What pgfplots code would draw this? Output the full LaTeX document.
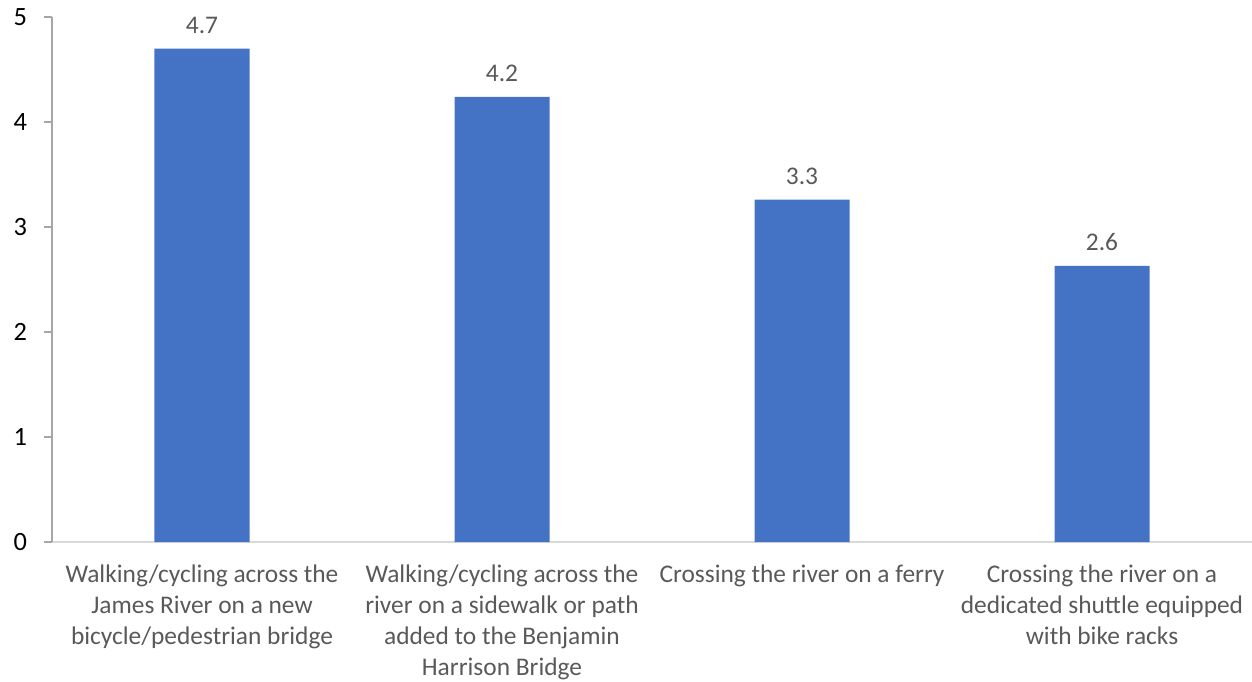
\documentclass[border=0pt]{standalone}
\usepackage{pgfplots}
\pgfplotsset{compat=1.18}
\usepackage{fontspec}
\setmainfont{Carlito}
\definecolor{barblue}{HTML}{4472C4}
\definecolor{txtgray}{HTML}{595959}
\definecolor{yaxgray}{HTML}{A6A6A6}
\definecolor{xaxgray}{HTML}{D9D9D9}
\begin{document}
\begin{tikzpicture}
\begin{axis}[
  scale only axis,
  width=600pt, height=262.5pt,
  xmin=-0.5, xmax=3.5, ymin=0, ymax=5,
  axis lines=left,
  axis line style={-},
  x axis line style={draw=xaxgray, line width=1pt},
  y axis line style={draw=yaxgray, line width=1pt},
  ytick={0,1,2,3,4,5},
  ytick style={draw=yaxgray, line width=1pt},
  tick align=outside,
  major tick length=4pt,
  xtick={0,1,2,3},
  xtick style={draw=none},
  xticklabels={
    {Walking/cycling across the\\James River on a new\\bicycle/pedestrian bridge},
    {Walking/cycling across the\\river on a sidewalk or path\\added to the Benjamin\\Harrison Bridge},
    {Crossing the river on a ferry},
    {Crossing the river on a\\dedicated shuttle equipped\\with bike racks}},
  x tick label style={align=center, font=\fontsize{12.7}{15.5}\selectfont, text=txtgray, anchor=north, yshift=-4pt},
  y tick label style={font=\fontsize{13.2}{15}\selectfont, text=black, xshift=-5pt},
  /pgf/number format/assume math mode=true,
  ybar, bar width=47.5pt,
  nodes near coords,
  nodes near coords style={font=\fontsize{12.7}{15}\selectfont, text=txtgray, /pgf/number format/fixed, /pgf/number format/precision=1, /pgf/number format/fixed zerofill, yshift=4pt},
  clip=false,
]
\addplot[fill=barblue, draw=none] coordinates {(0,4.70) (1,4.24) (2,3.26) (3,2.63)};
\end{axis}
\pgfresetboundingbox
\path (current axis.south west) ++(-26pt,-69.5pt) rectangle ++(626pt,340.5pt);
\end{tikzpicture}
\end{document}
